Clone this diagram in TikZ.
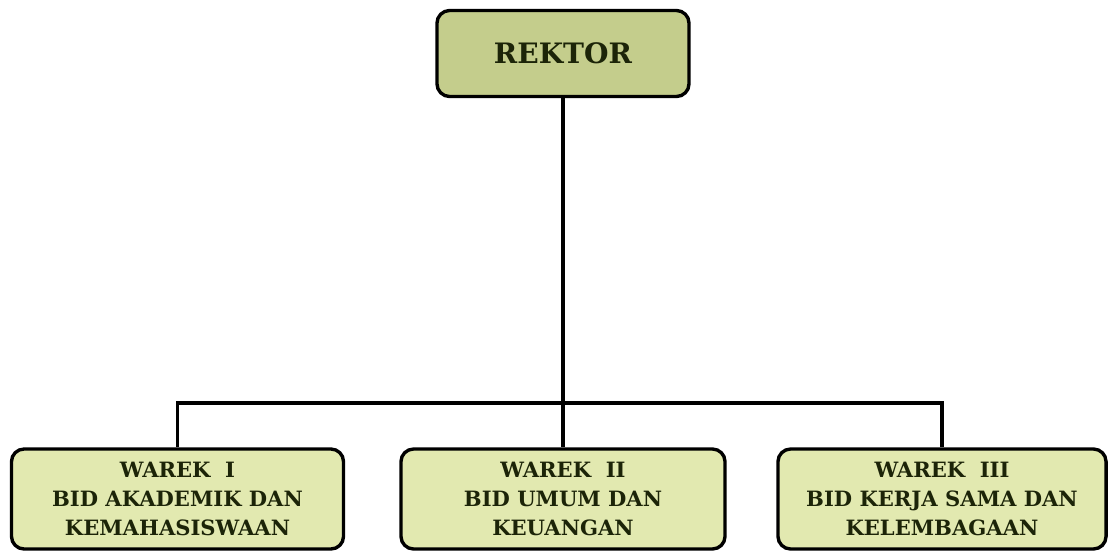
\documentclass[tikz,border=0pt]{standalone}
\usepackage{fontspec}
\setmainfont{DejaVu Serif}
\definecolor{rektorfill}{RGB}{196,205,140}
\definecolor{warekfill}{RGB}{226,233,176}
\definecolor{textolive}{RGB}{28,36,8}
\begin{document}
\begin{tikzpicture}[x=0.025cm, y=-0.025cm,
  rektorbox/.style={draw, line width=2.4pt, rounded corners=9pt, fill=rektorfill,
    minimum height=2.15cm, font=\fontsize{20}{23}\selectfont\bfseries, text=textolive},
  warekbox/.style={draw, line width=2.4pt, rounded corners=9pt, fill=warekfill,
    minimum height=2.5cm, align=center, font=\fontsize{15}{20.5}\selectfont\bfseries, text=textolive},
  link/.style={line width=2.2pt}]
  \useasboundingbox (0,0) rectangle (1108,553);

  % Top
  \node[rektorbox, minimum width=6.3cm] (rektor) at (563, 53.5) {REKTOR};

  % Wakil rektor
  \node[warekbox, minimum width=8.3cm] (warek1) at (177.5, 499) {WAREK\ \ I\\BID AKADEMIK DAN\\KEMAHASISWAAN};
  \node[warekbox, minimum width=8.1cm] (warek2) at (563, 499) {WAREK\ \ II\\BID UMUM DAN\\KEUANGAN};
  \node[warekbox, minimum width=8.2cm] (warek3) at (942, 499) {WAREK\ \ III\\BID KERJA SAMA DAN\\KELEMBAGAAN};

  % Lines
  \coordinate (bar) at (563, 403);
  \draw[link] (rektor.south) -- (warek2.north);
  \draw[link] (warek1.north) -- (warek1.north |- bar) -- (warek3.north |- bar) -- (warek3.north);
\end{tikzpicture}
\end{document}
